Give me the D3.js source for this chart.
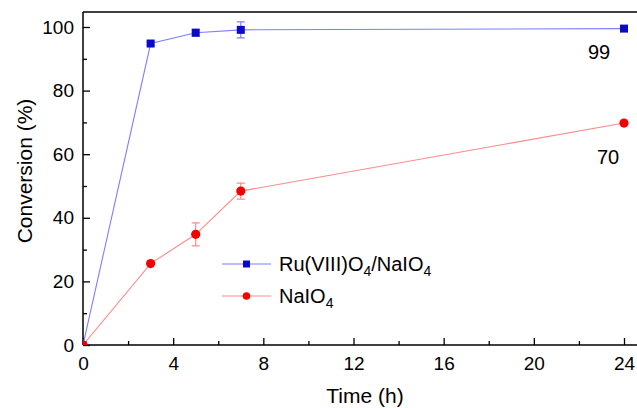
<!DOCTYPE html>
<html>
<head>
<meta charset="utf-8">
<script src="https://cdn.jsdelivr.net/npm/d3@7"></script>
<style>
  body { margin: 0; background: #fff; }
  text { font-family: "Liberation Sans", Arial, sans-serif; fill: #000; }
</style>
</head>
<body>
<svg id="chart" width="637" height="408"></svg>
<script>
// data
const times = [0, 3, 5, 7, 24];
const ruValues = [0, 94.8, 98.2, 99.1, 99.5];
const ruErrors = [0, 0.6, 1.1, 2.5, 0];
const naValues = [0, 25.6, 34.8, 48.4, 69.8];
const naErrors = [0, 0, 3.6, 2.5, 0];
const seriesNames = ["Ru(VIII)O", "NaIO"];
const endLabels = ["99", "70"];
const xTicks = [0, 4, 8, 12, 16, 20, 24];
const yTicks = [0, 20, 40, 60, 80, 100];

const svg = d3.select("#chart");
const mLeft = 83, mRight = 624, mTop = 12, mBottom = 345;

const x = d3.scaleLinear().domain([0, 24]).range([mLeft, mRight]);
const y = d3.scaleLinear().domain([0, 100]).range([mBottom, 27]);

svg.append("defs").append("clipPath").attr("id", "plotclip")
    .append("rect").attr("x", mLeft).attr("y", mTop).attr("width", 637 - mLeft).attr("height", mBottom - mTop);

// frame: top line runs off the right edge
svg.append("line").attr("x1", mLeft).attr("x2", 637).attr("y1", mTop).attr("y2", mTop)
    .attr("stroke", "#000").attr("stroke-width", 1.5);

// axes with inward ticks
const xAxis = d3.axisBottom(x).tickValues(xTicks).tickSize(-7).tickPadding(12).tickFormat(d3.format("d"));
const xMinor = d3.axisBottom(x).tickValues([2, 6, 10, 14, 18, 22]).tickSize(-4).tickFormat("");
const yAxis = d3.axisLeft(y).tickValues(yTicks).tickSize(-7).tickPadding(9).tickFormat(d3.format("d"));
const yMinor = d3.axisLeft(y).tickValues([10, 30, 50, 70, 90]).tickSize(-4).tickFormat("");

function styleAxis(g) {
    g.select(".domain").remove();
    g.selectAll("line").attr("stroke", "#000").attr("stroke-width", 1.3);
    g.selectAll("text").style("font-size", "19px").attr("fill", "#000");
}

svg.append("g").attr("transform", `translate(0,${mBottom})`).call(xMinor).call(styleAxis);
svg.append("g").attr("transform", `translate(0,${mBottom})`).call(xAxis).call(styleAxis);
svg.append("g").attr("transform", `translate(${mLeft},0)`).call(yMinor).call(styleAxis);
svg.append("g").attr("transform", `translate(${mLeft},0)`).call(yAxis).call(styleAxis);

svg.append("line").attr("x1", mLeft).attr("x2", 637).attr("y1", mBottom).attr("y2", mBottom)
    .attr("stroke", "#000").attr("stroke-width", 1.5);
svg.append("line").attr("x1", mLeft).attr("x2", mLeft).attr("y1", mTop).attr("y2", mBottom)
    .attr("stroke", "#000").attr("stroke-width", 1.5);

// axis titles
svg.append("text").attr("x", 365).attr("y", 403).attr("text-anchor", "middle")
    .style("font-size", "21px").text("Time (h)");
svg.append("text").attr("transform", "translate(32,171) rotate(-90)")
    .attr("text-anchor", "middle").style("font-size", "21px").text("Conversion (%)");

const series = [
    { values: ruValues, errors: ruErrors, line: "#7f7fff", mark: "#0a0ac8", shape: "square" },
    { values: naValues, errors: naErrors, line: "#ff8a8a", mark: "#f40000", shape: "circle" }
];

const plot = svg.append("g").attr("clip-path", "url(#plotclip)");
const line = d3.line().x((d, i) => x(times[i])).y(d => y(d));

series.forEach(s => {
    plot.append("path").datum(s.values).attr("d", line)
        .attr("fill", "none").attr("stroke", s.line).attr("stroke-width", 1.1);
    const g = plot.append("g");
    s.values.forEach((v, i) => {
        const e = s.errors[i];
        if (e > 0) {
            const cx = x(times[i]);
            g.append("path")
                .attr("d", `M${cx},${y(v + e)}V${y(v - e)}M${cx - 4},${y(v + e)}H${cx + 4}M${cx - 4},${y(v - e)}H${cx + 4}`)
                .attr("stroke", s.line).attr("stroke-width", 1.2).attr("fill", "none");
        }
    });
    s.values.forEach((v, i) => {
        if (s.shape === "square") {
            g.append("rect").attr("x", x(times[i]) - 4).attr("y", y(v) - 4)
                .attr("width", 8).attr("height", 8).attr("fill", s.mark);
        } else {
            g.append("circle").attr("cx", x(times[i])).attr("cy", y(v)).attr("r", 4.6).attr("fill", s.mark);
        }
    });
});

// end labels
svg.append("text").attr("x", 599).attr("y", 59).attr("text-anchor", "middle")
    .style("font-size", "20px").text(endLabels[0]);
svg.append("text").attr("x", 608).attr("y", 164).attr("text-anchor", "middle")
    .style("font-size", "20px").text(endLabels[1]);

// legend
const legend = svg.append("g");
series.forEach((s, i) => {
    const ly = 264 + i * 32;
    legend.append("line").attr("x1", 222).attr("x2", 271).attr("y1", ly).attr("y2", ly)
        .attr("stroke", s.line).attr("stroke-width", 1.1);
    if (s.shape === "square") {
        legend.append("rect").attr("x", 243).attr("y", ly - 3.5).attr("width", 7).attr("height", 7).attr("fill", s.mark);
    } else {
        legend.append("circle").attr("cx", 246.5).attr("cy", ly).attr("r", 3.8).attr("fill", s.mark);
    }
    const t = legend.append("text").attr("x", 279).attr("y", ly + 7).style("font-size", "20px");
    t.append("tspan").text(seriesNames[i]);
    t.append("tspan").attr("dy", 5).style("font-size", "14px").text("4");
    if (i === 0) {
        t.append("tspan").attr("dy", -5).text("/NaIO");
        t.append("tspan").attr("dy", 5).style("font-size", "14px").text("4");
    }
});
</script>
</body>
</html>
